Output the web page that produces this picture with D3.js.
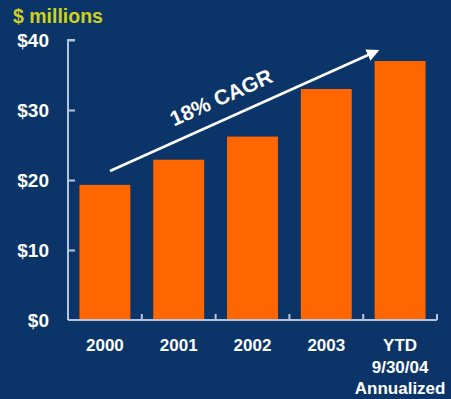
<!DOCTYPE html>
<html>
<head>
<meta charset="utf-8">
<script src="https://cdn.jsdelivr.net/npm/d3@7"></script>
<style>
  html, body { margin: 0; padding: 0; background: #0b3568; }
  svg { display: block; }
  text { font-family: "Liberation Sans", Arial, sans-serif; font-weight: bold; }
</style>
</head>
<body>
<svg id="chart" width="451" height="399"></svg>
<script>
// Revenue by year, $ millions
const categories = ["2000", "2001", "2002", "2003", "YTD"];
const categoryLines = [["2000"], ["2001"], ["2002"], ["2003"], ["YTD", "9/30/04", "Annualized"]];
const revenue = [19.3, 22.9, 26.2, 33.0, 37.0];
const yTicks = [0, 10, 20, 30, 40];
const unitLabel = "$ millions";
const growthLabel = "18% CAGR";

const svg = d3.select("#chart");
const W = 451, H = 399;
svg.append("rect").attr("width", W).attr("height", H).attr("fill", "#0b3568");

const x0 = 68, x1 = 437, yTop = 40, yBase = 320;

const x = d3.scaleBand().domain(categories).range([x0, x1]).paddingInner(0.31).paddingOuter(0.155);
const y = d3.scaleLinear().domain([0, 40]).range([yBase, yTop]);

const axisColor = "#b7c4de";

// bars
svg.append("g").selectAll("rect").data(revenue).join("rect")
  .attr("x", (d, i) => x(categories[i]))
  .attr("y", d => y(d))
  .attr("width", x.bandwidth())
  .attr("height", d => y(0) - y(d))
  .attr("fill", "#ff6600");

// y axis
const yAxis = d3.axisRight(y).tickValues(yTicks).tickSize(7).tickFormat("");
const gy = svg.append("g").attr("transform", `translate(${x0},0)`).call(yAxis);
gy.select(".domain").attr("d", `M7,${yTop}H0V${yBase}`);
gy.selectAll(".domain, line").attr("stroke", axisColor).attr("stroke-width", 2);
gy.selectAll(".tick").filter(d => d === 0).select("line").remove();

svg.append("g").selectAll("text").data(yTicks).join("text")
  .attr("x", 49).attr("y", d => y(d) + 7)
  .attr("text-anchor", "end")
  .attr("fill", "#ffffff")
  .attr("font-size", 19)
  .text(d => "$" + d);

// x axis with ticks at category boundaries
const step = x.step();
const boundaries = categories.slice(1).map(c => x(c) - x.paddingInner() * step / 2);
boundaries.push(x1);
svg.append("line").attr("x1", x0).attr("x2", x1).attr("y1", yBase).attr("y2", yBase)
  .attr("stroke", axisColor).attr("stroke-width", 2);
svg.append("g").selectAll("line").data(boundaries).join("line")
  .attr("x1", d => d).attr("x2", d => d).attr("y1", yBase).attr("y2", yBase - 6)
  .attr("stroke", axisColor).attr("stroke-width", 2);

// category labels
const lab = svg.append("g").selectAll("text").data(categoryLines).join("text")
  .attr("text-anchor", "middle")
  .attr("fill", "#ffffff")
  .attr("font-size", 17)
  .attr("transform", (d, i) => `translate(${x(categories[i]) + x.bandwidth() / 2},0)`);
lab.selectAll("tspan").data(d => d).join("tspan")
  .attr("x", 0).attr("y", (d, j) => 351 + j * 21.5)
  .text(d => d);

// unit label
svg.append("text").attr("x", 13).attr("y", 23)
  .attr("fill", "#cfd21c").attr("font-size", 19.5)
  .text(unitLabel);

// growth arrow
const defs = svg.append("defs");
defs.append("marker").attr("id", "arrowhead")
  .attr("viewBox", "0 0 10 10").attr("refX", 8).attr("refY", 5)
  .attr("markerWidth", 5).attr("markerHeight", 5).attr("orient", "auto")
  .append("path").attr("d", "M0,0L10,5L0,10z").attr("fill", "#ffffff");

const ax1 = 110, ay1 = 171, ax2 = 377, ay2 = 51;
svg.append("line").attr("x1", ax1).attr("y1", ay1).attr("x2", ax2).attr("y2", ay2)
  .attr("stroke", "#ffffff").attr("stroke-width", 2.5)
  .attr("marker-end", "url(#arrowhead)");
const ang = Math.atan2(ay2 - ay1, ax2 - ax1) * 180 / Math.PI;
svg.append("text")
  .attr("transform", `translate(224,104) rotate(${ang})`)
  .attr("text-anchor", "middle")
  .attr("fill", "#ffffff").attr("font-size", 21)
  .text(growthLabel);
</script>
</body>
</html>
